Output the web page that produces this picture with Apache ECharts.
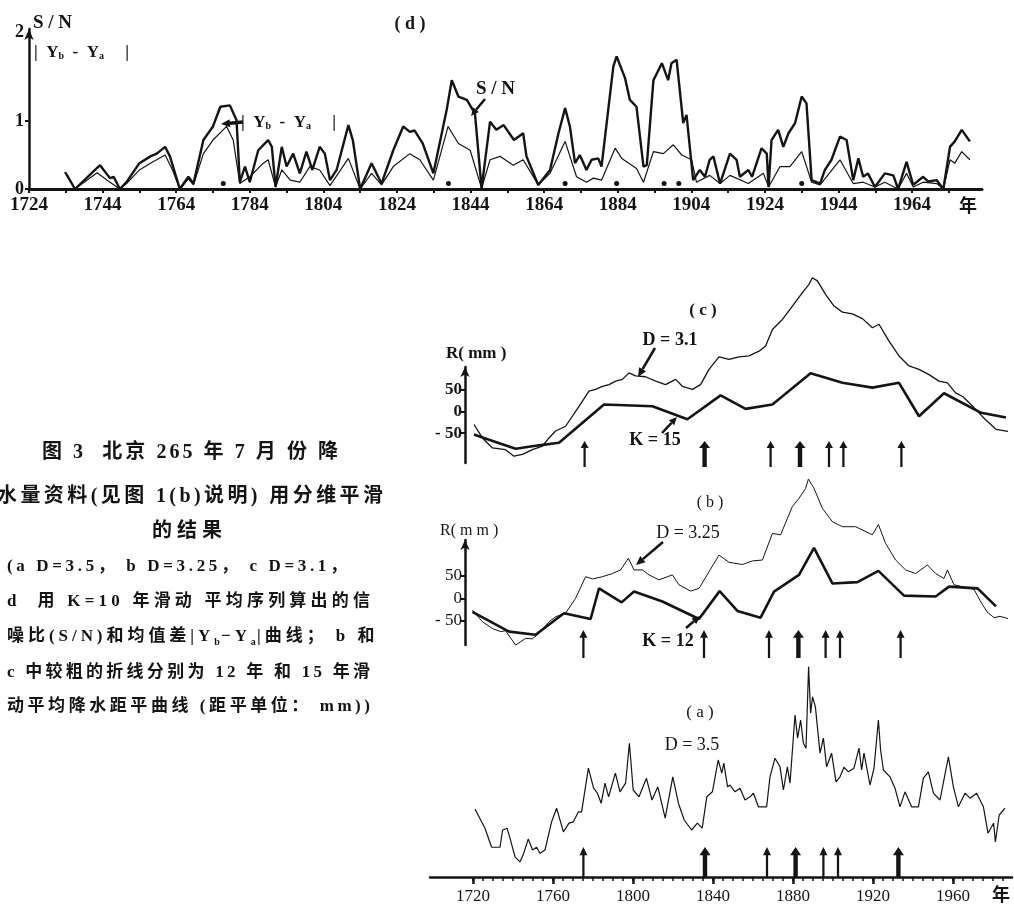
<!DOCTYPE html>
<html>
<head>
<meta charset="utf-8">
<script src="https://cdn.jsdelivr.net/npm/echarts@6/dist/echarts.min.js"></script>
<style>
html, body { margin: 0; padding: 0; background: #fff; }
#chart { width: 1014px; height: 911px; }
</style>
</head>
<body>
<div id="chart"></div>
<script>
// (d) S/N 和 |Yb - Ya|，K = 10 年滑动平均
const snRatio = [[1733.8,0.25],[1736.5,0],[1743.3,0.35],[1746,0.16],[1747,0.18],[1748.7,0],[1750.5,0.1],[1754,0.38],[1757,0.48],[1758.7,0.52],[1761,0.62],[1762.3,0.48],[1765,0],[1767.3,0.18],[1768.7,0.08],[1771.4,0.72],[1774,0.92],[1776,1.21],[1778.6,1.23],[1780.4,1.01],[1781.3,0.1],[1782.7,0.33],[1784,0.1],[1786.3,0.57],[1789,0.72],[1790,0.62],[1791,0.03],[1792.7,0.62],[1794,0.33],[1795.8,0.52],[1797.6,0.23],[1799.4,0.55],[1801,0.28],[1803,0.62],[1804.4,0.52],[1805.8,0.13],[1807.6,0.28],[1810.8,0.94],[1812,0.72],[1814,0],[1817.1,0.38],[1819.8,0.08],[1823,0.57],[1825.7,0.92],[1827.5,0.84],[1828.8,0.86],[1831,0.67],[1833.9,0.23],[1837.5,1.16],[1838.9,1.6],[1840.7,1.36],[1843,1.31],[1845.2,1.11],[1847,0.01],[1849.3,0.99],[1851,0.87],[1853,0.94],[1855.8,0.72],[1858.3,0.82],[1859.2,0.48],[1862.4,0.06],[1865.6,0.28],[1867.9,0.82],[1869.7,1.19],[1871,0.92],[1872.4,0.38],[1873.7,0.5],[1875.5,0.28],[1876.9,0.43],[1878.7,0.45],[1879.6,0.33],[1882.8,1.8],[1883.7,1.95],[1886,1.63],[1887.3,1.31],[1889.1,1.21],[1891,0.33],[1891.9,0.35],[1893.7,1.6],[1896,1.85],[1897.7,1.6],[1898.6,1.85],[1900,1.9],[1901.8,0.97],[1902.7,1.09],[1904.5,0.13],[1906.3,0.28],[1907.7,0.18],[1909,0.43],[1910,0.48],[1911.8,0.08],[1914.5,0.52],[1916.3,0.43],[1917.2,0.18],[1919.5,0.28],[1920.5,0.18],[1923.1,0.6],[1924.5,0.52],[1925,0.03],[1925.8,0.72],[1927.6,0.87],[1929,0.62],[1930.4,0.82],[1932.2,0.97],[1934,1.36],[1935.3,1.26],[1936.7,0.13],[1939,0.08],[1940.3,0.28],[1942.1,0.43],[1944.4,0.77],[1946.2,0.72],[1948,0.13],[1949.4,0.45],[1950.7,0.18],[1952,0.23],[1953.9,0.03],[1956.6,0.23],[1958.9,0.2],[1960.2,0],[1962.5,0.4],[1964.3,0.06],[1967,0.18],[1968.4,0.11],[1970.7,0.13],[1972.5,0],[1974.3,0.62],[1975.6,0.7],[1977.5,0.87],[1979.7,0.7]]
const meanDiff = [[1734.5,0.2],[1736.5,0],[1742.5,0.24],[1746,0.1],[1748.7,0],[1750.5,0.08],[1754,0.28],[1757,0.38],[1761,0.5],[1763,0.28],[1765,0],[1767.3,0.15],[1768.7,0.06],[1771.4,0.52],[1774,0.72],[1777.7,0.92],[1779.5,0.72],[1781.3,0.08],[1784,0.18],[1787.7,0.38],[1789,0.43],[1791,0.03],[1792.7,0.28],[1795,0.13],[1797.6,0.1],[1800.3,0.33],[1803,0.28],[1805.8,0.05],[1810.8,0.45],[1814,0],[1817.1,0.23],[1819.8,0.06],[1823,0.33],[1827.5,0.52],[1830.2,0.43],[1833.9,0.13],[1837.9,0.92],[1840.7,0.67],[1843.9,0.57],[1847,0.01],[1849.3,0.43],[1852,0.48],[1855.6,0.35],[1858.3,0.43],[1862.4,0.06],[1865.6,0.23],[1869.7,0.7],[1872.8,0.18],[1875.5,0.1],[1877.4,0.16],[1879.6,0.13],[1883.3,0.6],[1885.1,0.45],[1889.1,0.3],[1891,0.1],[1893.7,0.55],[1896.4,0.52],[1899.1,0.65],[1901.4,0.5],[1904.1,0.43],[1905.4,0.1],[1909,0.2],[1911.8,0.08],[1914.5,0.2],[1919.5,0.08],[1923.6,0.23],[1925,0.03],[1928.1,0.33],[1930.8,0.33],[1934,0.55],[1936.7,0.1],[1939,0.06],[1944.4,0.43],[1948,0.08],[1950.7,0.1],[1953.9,0.03],[1956.6,0.1],[1960.2,0],[1962.5,0.23],[1964.3,0.03],[1967,0.1],[1970.7,0.08],[1972.5,0],[1974.3,0.43],[1975.6,0.38],[1977.5,0.55],[1979.7,0.43]]
const dDotYears = [1776.8, 1838, 1869.7, 1883.7, 1896.6, 1900.6, 1934]

// (c) D = 3.1 与 K = 15
const cFractal = [[1720,-30],[1724.2,-61],[1729.2,-84],[1735.8,-88],[1740,-103],[1744.2,-99],[1749.2,-88],[1754.2,-80],[1757.5,-61],[1760.8,-45],[1765.8,-34],[1772.5,12],[1777.5,47],[1780.8,51],[1784.2,58],[1787.5,62],[1790.8,70],[1794.2,74],[1797.5,89],[1800.8,82],[1805.8,80],[1810.8,70],[1815.8,62],[1820.8,74],[1824.2,58],[1829.2,51],[1833.3,62],[1837.5,97],[1842.5,126],[1847.5,120],[1852.5,126],[1857.5,128],[1862.5,139],[1865.8,151],[1869.2,189],[1874.2,212],[1879.2,243],[1884.2,274],[1887.5,293],[1889.2,308],[1891.7,301],[1895.8,270],[1900,243],[1904.2,229],[1909.2,225],[1914.2,214],[1919.2,193],[1922.5,201],[1927.5,162],[1932.5,128],[1937.5,105],[1942.5,97],[1947.5,85],[1952.5,70],[1956.7,66],[1960.8,43],[1964.5,34],[1970,9],[1975.5,-18],[1981,-41],[1987,-46]]
const cMoving = [[1720,-53],[1727.5,-65],[1740.8,-86],[1752.5,-78],[1762.5,-72],[1785,16],[1809.2,12],[1826.7,-18],[1843.3,37],[1855.8,6],[1869.2,16],[1888.3,88],[1904.2,66],[1919.2,55],[1932.5,66],[1942.5,-11],[1955,42],[1973.6,-3],[1986,-14]]
const cArrowYears = [1775.3, 1835.3, 1868.3, 1883, 1897.5, 1904.7, 1933.7]

// (b) D = 3.25 与 K = 12
const bFractal = [[1719.2,-26],[1724.2,-52],[1729.2,-67],[1733.3,-74],[1735.8,-72],[1740.8,-104],[1745.8,-89],[1749.2,-90],[1752.5,-78],[1757.5,-52],[1760.8,-41],[1765.8,-33],[1770.8,0],[1775.8,48],[1779.2,43],[1784.2,48],[1789.2,55],[1793.3,63],[1797.2,89],[1800,63],[1804.2,63],[1807.5,52],[1812.5,41],[1819.2,52],[1822.5,30],[1828.3,16],[1832.5,22],[1837.5,59],[1842.5,96],[1847.5,80],[1854.2,75],[1859.2,83],[1864.2,85],[1869.2,144],[1873.3,141],[1879.2,204],[1882.5,222],[1885.8,244],[1887.2,265],[1890,244],[1894.2,200],[1899.2,170],[1904.2,159],[1910.8,159],[1919.2,141],[1922.2,164],[1925.8,122],[1930.8,85],[1935.8,63],[1940.8,55],[1946.7,74],[1950.8,55],[1955,44],[1956.7,63],[1960,30],[1965,25],[1970,20],[1973,-5],[1976.5,-30],[1980,-43],[1983,-40],[1987,-45]]
const bMoving = [[1719.2,-30],[1737.5,-74],[1750.8,-81],[1765,-33],[1778.3,-46],[1782.5,22],[1793.8,-9],[1800,15],[1814.2,-7],[1832.5,-46],[1842.8,16],[1851.7,-28],[1863.3,-43],[1870,15],[1882.5,52],[1890,112],[1899.2,33],[1911.7,36],[1922.2,61],[1935,6],[1950.8,4],[1957.5,26],[1971.8,22],[1981,-18]]
const bArrowYears = [1774.7, 1835, 1867.5, 1882.2, 1895.8, 1903, 1933.3]

// (a) D = 3.5
const aFractal = [[1721,46],[1724.3,18],[1726,4],[1729.3,-38],[1733.5,-38],[1734.8,0],[1737,4],[1738.5,-18],[1741,-59],[1743.5,-70],[1745.4,-51],[1747.6,-20],[1749.8,-44],[1751.8,-38],[1753.5,-51],[1756,-44],[1759.3,18],[1761.8,48],[1765.2,-4],[1768,15],[1770.2,18],[1772.7,40],[1774.3,40],[1777.7,136],[1780.3,92],[1782.2,81],[1784.1,59],[1786,103],[1787.8,73],[1791.2,125],[1793.5,84],[1796.3,103],[1798.2,191],[1800.1,88],[1803,73],[1806.7,114],[1809.5,66],[1812.4,95],[1816.1,26],[1819.9,117],[1822.7,59],[1825.6,22],[1829.3,0],[1832.2,15],[1834.6,4],[1836.9,73],[1839.7,84],[1842.6,154],[1844.4,125],[1845.4,147],[1847.3,95],[1848.5,99],[1851,84],[1853.5,92],[1856,66],[1858.5,73],[1860.2,81],[1862.7,51],[1866.8,51],[1868.5,117],[1871,158],[1873.5,139],[1875.2,88],[1877.2,139],[1878.5,103],[1881,253],[1882.3,202],[1883.8,242],[1885.2,191],[1886.5,180],[1887.8,359],[1888.8,257],[1889.8,293],[1891.2,271],[1892.2,227],[1893.5,169],[1895.2,202],[1896.8,139],[1899.3,169],[1901.5,106],[1903.5,117],[1905.5,138],[1907.7,128],[1910.5,136],[1913,180],[1914.3,132],[1915.5,169],[1918.5,99],[1920.5,136],[1922.7,242],[1923.8,176],[1925.2,132],[1928.5,117],[1931,92],[1933.5,51],[1936,84],[1939.3,51],[1942.7,51],[1945.2,114],[1947.7,128],[1950.2,81],[1953.5,66],[1957.7,161],[1960.2,95],[1962.7,51],[1966,81],[1968.5,70],[1971.8,81],[1975.2,51],[1977.5,-7],[1980.3,15],[1981.2,-26],[1983.1,33],[1986,48]]
const aArrowYears = [1775.2, 1836, 1867, 1881.3, 1895.2, 1902.5, 1932.7]

// 刻度
const dYearLabels = [1724, 1744, 1764, 1784, 1804, 1824, 1844, 1864, 1884, 1904, 1924, 1944, 1964]
const dYearTicks = [1724, 1734, 1744, 1754, 1764, 1774, 1784, 1794, 1804, 1814, 1824, 1834, 1844, 1854, 1864, 1874, 1884, 1894, 1904, 1914, 1924, 1934, 1944, 1954, 1964, 1974]
const dValueTicks = [0, 1]
const yearLabels = [1720, 1760, 1800, 1840, 1880, 1920, 1960]
const yearMinorTicks = [1720, 1725, 1730, 1735, 1740, 1745, 1750, 1755, 1760, 1765, 1770, 1775, 1780, 1785, 1790, 1795, 1800, 1805, 1810, 1815, 1820, 1825, 1830, 1835, 1840, 1845, 1850, 1855, 1860, 1865, 1870, 1875, 1880, 1885, 1890, 1895, 1900, 1905, 1910, 1915, 1920, 1925, 1930, 1935, 1940, 1945, 1950, 1955, 1960, 1965, 1970, 1975, 1980, 1985]
const rTicks = [-50, 0, 50]

const INK = '#141414'
const FONT = '"Liberation Serif", "Noto Sans CJK SC", serif'
const ARROW = 'path://M5,0 L10,11 L6.4,11 L6.4,40 L3.6,40 L3.6,11 L0,11 Z'
const ARROW_BOLD = 'path://M5,0 L10,11 L7,11 L7,40 L3,40 L3,11 L0,11 Z'

const chart = echarts.init(document.getElementById('chart'))

function lineSeries(data, xi, yi, width) {
  return {
    type: 'line', data, xAxisIndex: xi, yAxisIndex: yi,
    showSymbol: false, clip: false, animation: false, silent: true,
    lineStyle: { color: INK, width }
  }
}

// 箭头：bold 为加粗的年份
function arrowSeries(years, xi, yi, mid, h, bold) {
  return {
    type: 'scatter', xAxisIndex: xi, yAxisIndex: yi, clip: false, animation: false, silent: true,
    data: years.map(y => {
      const b = bold.indexOf(y) >= 0
      return { value: [y, mid], symbol: b ? ARROW_BOLD : ARROW, symbolSize: b ? [11, h] : [8, h] }
    }),
    symbolKeepAspect: false,
    itemStyle: { color: INK, opacity: 1 }
  }
}

function txt(str, x, y, size, bold, align, rich) {
  return {
    type: 'text', x, y, silent: true,
    style: {
      text: str, fontSize: size, fontFamily: FONT, fontWeight: bold ? 'bold' : 'normal',
      fill: INK, align: align || 'left', textAlign: align || 'left',
      verticalAlign: 'middle', textVerticalAlign: 'middle', rich
    }
  }
}

function pointer(x1, y1, x2, y2, w, head) {
  const ang = Math.atan2(y2 - y1, x2 - x1)
  const bx = x2 - head * Math.cos(ang), by = y2 - head * Math.sin(ang)
  const px = -Math.sin(ang) * head * 0.45, py = Math.cos(ang) * head * 0.45
  return [
    { type: 'line', silent: true, shape: { x1, y1, x2: bx, y2: by }, style: { stroke: INK, lineWidth: w } },
    { type: 'polygon', silent: true, shape: { points: [[x2, y2], [bx + px, by + py], [bx - px, by - py]] }, style: { fill: INK } }
  ]
}

// 图注：逐字排开，使每行宽度与原图一致；'_' 表示下一个字为下标
const measure = document.createElement('canvas').getContext('2d')
function spacedLine(str, x0, x1, y, size) {
  const items = []
  for (let i = 0; i < str.length; i++) {
    let ch = str[i], sub = false
    if (ch === '_' && i + 1 < str.length) { ch = str[++i]; sub = true }
    const fs = sub ? Math.round(size * 0.6) : size
    measure.font = 'bold ' + fs + 'px ' + FONT
    items.push({ ch, sub, fs, w: measure.measureText(ch).width })
  }
  const total = items.reduce((s, it) => s + it.w, 0)
  const gap = items.length > 1 ? (x1 - x0 - total) / (items.length - 1) : 0
  const out = []
  let x = x0
  items.forEach(it => {
    if (it.ch !== ' ') out.push(txt(it.ch, x, it.sub ? y + size * 0.32 : y, it.fs, true))
    x += it.w + (it.sub ? gap * 0.3 : gap)
  })
  return out
}

const subRich = {
  n: { fontSize: 17, fontWeight: 'bold', fontFamily: FONT, lineHeight: 20, verticalAlign: 'bottom' },
  s: { fontSize: 10, fontWeight: 'bold', fontFamily: FONT, lineHeight: 13, verticalAlign: 'bottom' }
}
const ybya = '{n||  Y}{s|b}{n|  -  Y}{s|a}{n|     |}'

const graphics = [].concat(
  txt('S / N', 33, 23, 19, true),
  txt(ybya, 34, 51, 17, true, 'left', subRich),
  txt('( d )', 410, 24, 18, true, 'center'),
  txt(ybya, 241, 121, 17, true, 'left', subRich),
  pointer(243, 122, 221, 124, 3.5, 9),
  txt('S / N', 476, 89, 19, true),
  pointer(485, 99, 471, 116, 2.5, 8),
  txt('年', 968, 207, 18, true, 'center'),

  txt('( c )', 703, 311, 17, true, 'center'),
  txt('D = 3.1', 670, 340, 18, true, 'center'),
  pointer(655, 348, 638, 377, 2.5, 9),
  txt('R( mm )', 446, 354, 17, true),
  txt('K = 15', 655, 440, 18, true, 'center'),
  pointer(662, 433, 677, 417, 2.5, 8),

  txt('( b )', 710, 503, 16, false, 'center'),
  txt('D = 3.25', 688, 533, 18, false, 'center'),
  pointer(663, 542, 636, 565, 2.5, 9),
  txt('R( m m )', 440, 531, 16, false),
  txt('K = 12', 668, 641, 18, true, 'center'),
  pointer(686, 628, 700, 616, 2.5, 8),

  txt('( a )', 700, 713, 17, false, 'center'),
  txt('D = 3.5', 692, 745, 18, false, 'center'),
  txt('年', 1001, 896, 18, true, 'center'),

  spacedLine('图 3  北京 265 年 7 月 份 降', 42, 338, 453, 20),
  spacedLine('水量资料(见图 1(b)说明) 用分维平滑', -3, 383, 497, 20),
  spacedLine('的结果', 152, 222, 532, 20),
  spacedLine('(a D=3.5， b D=3.25， c D=3.1，', 7, 347, 567, 17),
  spacedLine('d  用 K=10 年滑动 平均序列算出的信', 7, 370, 602, 17),
  spacedLine('噪比(S/N)和均值差|Y_b−Y_a|曲线； b 和', 7, 380, 637, 17),
  spacedLine('c 中较粗的折线分别为 12 年 和 15 年滑', 7, 370, 673, 17),
  spacedLine('动平均降水距平曲线 (距平单位： mm))', 7, 370, 707, 17)
)

const hiddenX = (gi, min, max) => ({
  gridIndex: gi, type: 'value', min, max,
  axisLine: { show: false }, axisTick: { show: false }, axisLabel: { show: false }, splitLine: { show: false }
})

function rAxis(gi, min, max, bold) {
  return {
    gridIndex: gi, type: 'value', min, max,
    axisLine: { show: true, onZero: false, symbol: ['none', 'arrow'], symbolSize: [7, 10], lineStyle: { color: INK, width: 2.5 } },
    axisTick: { show: true, customValues: rTicks, length: 4, lineStyle: { color: INK, width: 2 } },
    axisLabel: {
      customValues: rTicks, margin: 3, color: INK, fontSize: 17, fontFamily: FONT,
      fontWeight: bold ? 'bold' : 'normal',
      formatter: v => v < 0 ? '- ' + (-v) : String(v)
    },
    splitLine: { show: false }
  }
}

const option = {
  backgroundColor: '#fff',
  animation: false,
  grid: [
    { left: 29, top: 29, width: 953, height: 160, outerBoundsMode: 'none' },
    { left: 465, top: 367, width: 547, height: 96, outerBoundsMode: 'none' },
    { left: 465, top: 540, width: 547, height: 105, outerBoundsMode: 'none' },
    { left: 430, top: 660, width: 582, height: 217, outerBoundsMode: 'none' }
  ],
  xAxis: [
    {
      gridIndex: 0, type: 'value', min: 1724, max: 1983,
      axisLine: { show: true, onZero: false, lineStyle: { color: INK, width: 3 } },
      axisTick: { show: true, customValues: dYearTicks, length: 4, lineStyle: { color: INK, width: 2 } },
      axisLabel: { customValues: dYearLabels, margin: 7, color: INK, fontSize: 19, fontWeight: 'bold', fontFamily: FONT, formatter: v => String(v) },
      splitLine: { show: false }
    },
    hiddenX(1, 1715.5, 1989),
    hiddenX(2, 1715.5, 1989),
    {
      gridIndex: 3, type: 'value', min: 1698.5, max: 1989.5,
      axisLine: { show: true, onZero: false, lineStyle: { color: INK, width: 2.5 } },
      axisTick: { show: true, customValues: yearMinorTicks, length: 4, lineStyle: { color: INK, width: 1.5 } },
      axisLabel: { customValues: yearLabels, margin: 11, color: INK, fontSize: 17, fontFamily: FONT, formatter: v => String(v) },
      splitLine: { show: false }
    },
    {
      gridIndex: 3, type: 'value', min: 1698.5, max: 1989.5, position: 'bottom',
      axisLine: { show: false, onZero: false },
      axisTick: { show: true, customValues: yearLabels, length: 7, lineStyle: { color: INK, width: 2.5 } },
      axisLabel: { show: false }, splitLine: { show: false }
    }
  ],
  yAxis: [
    {
      gridIndex: 0, type: 'value', min: 0, max: 2.353,
      axisLine: { show: true, onZero: false, symbol: ['none', 'arrow'], symbolSize: [7, 11], lineStyle: { color: INK, width: 2.5 } },
      axisTick: { show: true, customValues: dValueTicks, length: 4, lineStyle: { color: INK, width: 2 } },
      axisLabel: {
        customValues: [0, 1, 2.3], margin: 5, color: INK, fontSize: 18, fontWeight: 'bold', fontFamily: FONT,
        formatter: v => v > 2 ? '2' : String(v)
      },
      splitLine: { show: false }
    },
    rAxis(1, -118.7, 102.5, true),
    rAxis(2, -103.7, 129.5, false),
    {
      gridIndex: 3, type: 'value', min: -103.4, max: 374, show: false,
      axisLine: { show: false }, axisTick: { show: false }, axisLabel: { show: false }, splitLine: { show: false }
    }
  ],
  series: [
    lineSeries(meanDiff, 0, 0, 1.2),
    lineSeries(snRatio, 0, 0, 2.4),
    {
      type: 'scatter', xAxisIndex: 0, yAxisIndex: 0, clip: false, silent: true,
      data: dDotYears.map(y => [y, 0.08]), symbol: 'circle', symbolSize: 5,
      itemStyle: { color: INK, opacity: 1 }
    },
    lineSeries(cFractal, 1, 1, 1.3),
    lineSeries(cMoving, 1, 1, 2.6),
    arrowSeries(cArrowYears, 1, 1, -97.9, 26, [1883, 1835.3]),
    lineSeries(bFractal, 2, 2, 1.0),
    lineSeries(bMoving, 2, 2, 2.6),
    arrowSeries(bArrowYears, 2, 2, -101.5, 28, [1882.2]),
    lineSeries(aFractal, 3, 3, 1.2),
    arrowSeries(aArrowYears, 3, 3, -70.4, 30, [1836, 1881.3, 1932.7])
  ],
  graphic: { elements: graphics }
}

chart.setOption(option)
</script>
</body>
</html>
